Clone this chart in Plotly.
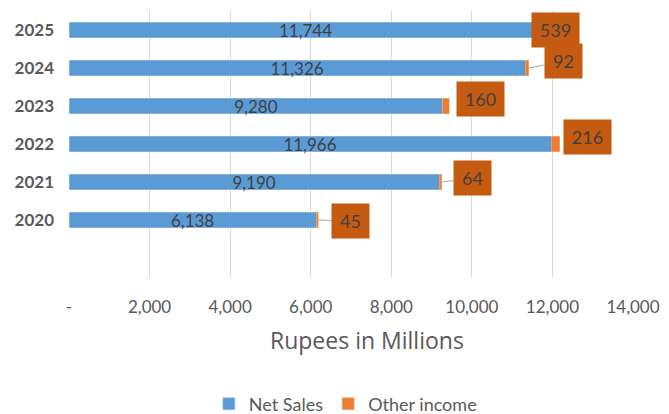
import plotly.graph_objects as go

# Yearly figures, Rupees in millions
years = ["2020", "2021", "2022", "2023", "2024", "2025"]
net_sales = [6138, 9190, 11966, 9280, 11326, 11744]
other_income = [45, 64, 216, 160, 92, 539]

x_tick_vals = [0, 2000, 4000, 6000, 8000, 10000, 12000, 14000]
x_tick_text = ["-", "2,000", "4,000", "6,000", "8,000", "10,000", "12,000", "14,000"]

# Callout placement for the other-income labels (pixel offsets from bar end)
callout_dx = [32, 31, 28, 31, 35, -8]
callout_dy = [1, -4, -7, -7, -7, 0]
callout_leader = [True, True, False, False, True, False]

FONT = "Lato"
TEXT_GREY = "#595959"
DARK = "#404040"
BLUE = "#5B9BD5"
ORANGE = "#ED7D31"
CALLOUT = "#C55A11"

fig = go.Figure()
fig.add_trace(go.Bar(
    y=years, x=net_sales, orientation="h", name="Net Sales",
    marker=dict(color=BLUE, line=dict(color="#9DC3E6", width=0.6)),
    width=0.4,
    text=[f"{v:,}" for v in net_sales],
    textposition="inside", insidetextanchor="middle", textangle=0,
    constraintext="none",
    textfont=dict(family=FONT, size=17, color=DARK),
))
fig.add_trace(go.Bar(
    y=years, x=other_income, orientation="h", name="Other income",
    marker=dict(color=ORANGE, line=dict(color="#F4B183", width=0.6)),
    width=0.4, textposition="none",
))

annotations = []
# category axis positions are given as the category index
for idx, (ns, oi, dx, dy, lead) in enumerate(zip(net_sales, other_income,
                                                  callout_dx, callout_dy, callout_leader)):
    label = f"{oi:,}"
    annotations.append(dict(
        x=ns + oi, y=idx, xref="x", yref="y",
        text=label, showarrow=True, ax=dx, ay=dy,
        arrowhead=0, arrowwidth=1, standoff=0,
        arrowcolor="#A6A6A6" if lead else "rgba(0,0,0,0)",
        bgcolor=CALLOUT, borderpad=0,
        width=47 if len(label) > 2 else 37, height=34,
        font=dict(family=FONT, size=18, color=DARK),
    ))

# Axis title
annotations.append(dict(
    x=0.528, y=-0.237, xref="paper", yref="paper",
    text="Rupees in Millions", showarrow=False,
    font=dict(family="Open Sans", size=23, color=TEXT_GREY),
    xanchor="center", yanchor="middle",
))

fig.update_layout(
    width=669, height=414,
    margin=dict(l=69, r=36, t=11, b=137),
    barmode="stack",
    plot_bgcolor="white", paper_bgcolor="white",
    font=dict(family=FONT, color=TEXT_GREY),
    annotations=annotations,
    xaxis=dict(
        range=[0, 14000], tickvals=x_tick_vals, ticktext=x_tick_text,
        showgrid=True, gridcolor="#D9D9D9", gridwidth=1,
        zeroline=False, showline=False, ticks="", automargin=False,
        tickfont=dict(family=FONT, size=17, color=TEXT_GREY),
        ticklabelstandoff=18,
    ),
    yaxis=dict(
        type="category", categoryorder="array", categoryarray=years,
        range=[-1.5, 5.5], showgrid=False, zeroline=False, showline=False,
        ticks="", automargin=False,
        tickfont=dict(family=FONT, size=17, color=TEXT_GREY, weight="bold"),
        ticklabelstandoff=14,
    ),
    legend=dict(
        orientation="h", x=0.49, xanchor="center",
        yref="container", y=0.024, yanchor="middle",
        font=dict(family=FONT, size=18, color=TEXT_GREY),
        itemwidth=30, traceorder="normal",
    ),
    showlegend=True,
)

fig.write_html("out.html")
